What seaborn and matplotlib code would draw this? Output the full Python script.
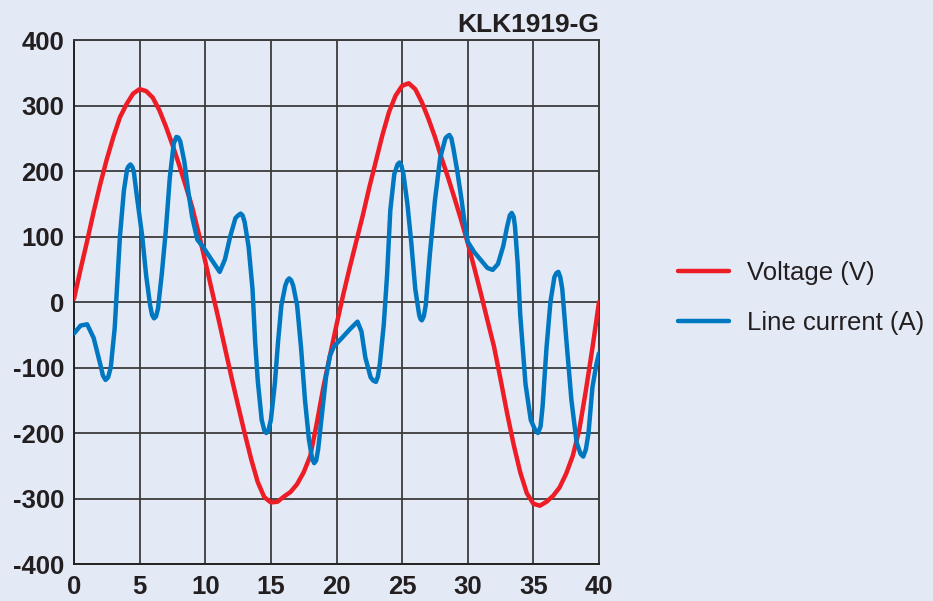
import pandas as pd
import numpy as np
import matplotlib
matplotlib.use("Agg")
import matplotlib.pyplot as plt
import seaborn as sns

# values
voltage_x = [0, 0.5, 1, 1.5, 2, 2.5, 3, 3.5, 4, 4.5, 5, 5.5, 6, 6.5, 7, 7.5, 8, 8.5, 9, 9.5,
             10, 10.5, 11, 11.5, 12, 12.5, 13, 13.5, 14, 14.5, 15, 15.5, 16, 16.5, 17, 17.5,
             18, 18.5, 19, 19.5, 20, 20.5, 21, 21.5, 22, 22.5, 23, 23.5, 24, 24.5, 25, 25.5,
             26, 26.5, 27, 27.5, 28, 28.5, 29, 29.5, 30, 30.5, 31, 31.5, 32, 32.5, 33, 33.5,
             34, 34.5, 35, 35.5, 36, 36.5, 37, 37.5, 38, 38.5, 39, 39.5, 40]
voltage_y = [5, 50, 93, 138, 180, 218, 252, 282, 302, 318, 325, 322, 312, 293, 268, 240, 210,
             178, 145, 105, 62, 18, -25, -70, -115, -158, -200, -240, -275, -298, -306, -305,
             -297, -290, -278, -260, -235, -185, -130, -82, -35, 10, 52, 92, 132, 175, 215,
             255, 290, 315, 330, 334, 325, 305, 280, 252, 220, 190, 158, 125, 90, 52, 13, -28,
             -68, -118, -170, -218, -260, -292, -308, -311, -305, -296, -283, -262, -235,
             -195, -135, -70, 0]

current_x = [0.0, 0.5, 1.0, 1.5, 2.0, 2.2, 2.4, 2.6, 2.8, 3.1, 3.3, 3.5, 3.8, 4.05, 4.15, 4.3,
             4.45, 4.55, 4.8, 5.2, 5.5, 5.8, 5.95, 6.1, 6.25, 6.4, 6.7, 7.0, 7.3, 7.6, 7.8,
             7.95, 8.1, 8.4, 8.7, 9.0, 9.4, 9.8, 10.3, 10.7, 11.1, 11.5, 11.9, 12.3, 12.55,
             12.7, 12.85, 13.0, 13.3, 13.6, 13.8, 14.0, 14.3, 14.5, 14.65, 14.8, 15.0, 15.3,
             15.55, 15.8, 16.1, 16.25, 16.4, 16.55, 16.7, 17.0, 17.3, 17.6, 17.9, 18.15, 18.3,
             18.45, 18.6, 18.9, 19.2, 19.5, 19.8, 20.5, 21.0, 21.6, 21.9, 22.2, 22.6, 22.8,
             23.0, 23.15, 23.3, 23.6, 23.85, 24.1, 24.4, 24.65, 24.8, 24.95, 25.1, 25.4, 25.7,
             26.0, 26.3, 26.4, 26.5, 26.65, 26.8, 27.1, 27.5, 27.9, 28.3, 28.45, 28.6, 28.75,
             28.9, 29.2, 29.5, 29.8, 30.0, 30.5, 31.0, 31.5, 31.9, 32.3, 32.7, 33.0, 33.2,
             33.35, 33.5, 33.6, 33.8, 34.0, 34.4, 34.8, 35.15, 35.35, 35.55, 35.7, 36.0, 36.3,
             36.6, 36.75, 36.9, 37.05, 37.2, 37.5, 37.9, 38.3, 38.6, 38.8, 39.0, 39.2, 39.5,
             39.8, 40.0]
current_y = [-48, -36, -34, -55, -95, -112, -119, -115, -100, -40, 30, 100, 170, 203, 207, 210,
             206, 200, 160, 100, 40, -5, -20, -25, -22, -10, 45, 110, 190, 242, 252,
             251, 245, 215, 170, 130, 95, 85, 70, 58, 46, 65, 100, 128, 133,
             135, 132, 122, 85, 20, -60, -120, -180, -196, -200, -197, -180, -125,
             -60, -5, 25, 33, 36, 33, 25, -5, -70, -150, -210, -240, -246,
             -242, -225, -170, -115, -82, -68, -53, -42, -30, -45, -85, -115, -120,
             -122, -114, -95, -35, 40, 140, 195, 210, 213, 208, 195, 150, 90,
             20, -20, -26, -28, -22, -5, 70, 155, 220, 250, 253, 255, 250,
             235, 200, 160, 115, 92, 76, 64, 52, 49, 58, 85, 115, 132,
             136, 130, 115, 60, -20, -125, -180, -196, -200, -190, -160, -70, 0,
             38, 44, 46, 38, 20, -55, -150, -215, -232, -236, -225, -200, -130,
             -95, -78]

x_ticks = [0, 5, 10, 15, 20, 25, 30, 35, 40]
y_ticks = [-400, -300, -200, -100, 0, 100, 200, 300, 400]
title_text = "KLK1919-G"
series_names = ["Voltage (V)", "Line current (A)"]

bg = "#e3e9f5"
ink = "#231f20"
gridc = "#3c3c3c"

sns.set_theme(style="white")
plt.rcParams["font.family"] = ["Liberation Sans", "DejaVu Sans"]

fig = plt.figure(figsize=(9.33, 6.01), dpi=100, facecolor=bg)
ax = fig.add_axes([74 / 933, 1 - 564 / 601, 525 / 933, 524 / 601])
ax.set_facecolor(bg)

df_v = pd.DataFrame({"x": voltage_x, "y": voltage_y})
df_c = pd.DataFrame({"x": current_x, "y": current_y})
sns.lineplot(data=df_v, x="x", y="y", color="#ee1c25", lw=3.2, ax=ax,
             label=series_names[0], sort=False, zorder=3,
             solid_joinstyle="round", solid_capstyle="round")
sns.lineplot(data=df_c, x="x", y="y", color="#0077c1", lw=3.2, ax=ax,
             label=series_names[1], sort=False, zorder=4,
             solid_joinstyle="round", solid_capstyle="round")

ax.set_xlim(0, 40)
ax.set_ylim(-400, 400)
ax.set_xticks(x_ticks)
ax.set_yticks(y_ticks)
ax.set_xticklabels([str(t) for t in x_ticks], fontsize=18.5, fontweight="bold", color=ink)
ax.set_yticklabels([str(t) for t in y_ticks], fontsize=18.5, fontweight="bold", color=ink)
ax.tick_params(axis="both", length=0)
ax.tick_params(axis="x", pad=8)
ax.tick_params(axis="y", pad=7)
ax.set_xlabel("")
ax.set_ylabel("")
ax.grid(True, color=gridc, lw=1.3)
ax.set_axisbelow(True)
for side in ["left", "bottom", "right", "top"]:
    ax.spines[side].set_visible(True)
    ax.spines[side].set_color(gridc)
    ax.spines[side].set_linewidth(1.4)
ax.spines["left"].set_color("#222222")
ax.spines["bottom"].set_color("#222222")

ax.set_title(title_text, loc="right", fontsize=19, fontweight="bold", color=ink, pad=6)

ax.legend(loc="center left", bbox_to_anchor=(678 / 933, 1 - 298 / 601),
          bbox_transform=fig.transFigure, frameon=False, fontsize=18.5,
          handlelength=2.0, handletextpad=0.7, labelspacing=1.0,
          borderpad=0, borderaxespad=0, labelcolor=ink)

fig.savefig("out.png", dpi=100, facecolor=bg)
